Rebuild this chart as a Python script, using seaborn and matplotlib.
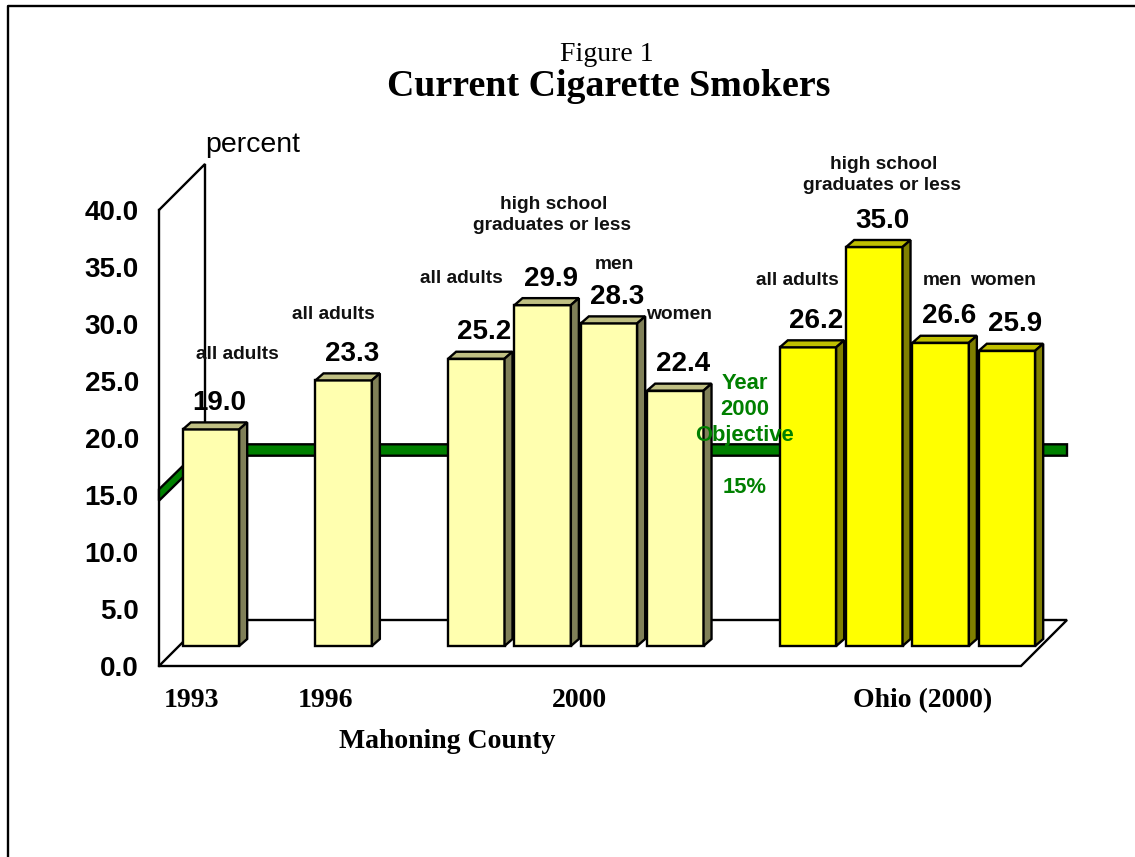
import pandas as pd
import seaborn as sns
import matplotlib.pyplot as plt
from matplotlib.colors import to_rgb
from matplotlib.patches import Polygon

# data
groups = ['1993', '1996', '2000 all adults', '2000 high school', '2000 men', '2000 women',
          'Ohio all adults', 'Ohio high school', 'Ohio men', 'Ohio women']
areas = ['Mahoning', 'Mahoning', 'Mahoning', 'Mahoning', 'Mahoning', 'Mahoning',
         'Ohio', 'Ohio', 'Ohio', 'Ohio']
percent = [19.0, 23.3, 25.2, 29.9, 28.3, 22.4, 26.2, 35.0, 26.6, 25.9]
y_ticks = [0, 5, 10, 15, 20, 25, 30, 35, 40]
objective = 15
slot_order = ['1993', ' ', '1996', '  ', '2000 all adults', '2000 high school', '2000 men',
              '2000 women', '   ', 'Ohio all adults', 'Ohio high school', 'Ohio men', 'Ohio women']

W, H = 1135, 857
LW = 1.7
sans = 'Liberation Sans'
serif = 'Liberation Serif'

sns.set_theme(style='white')
plt.rcParams['font.family'] = [sans, 'DejaVu Sans']


def box(left, top, right, bottom):
    return [left / W, 1 - bottom / H, (right - left) / W, (bottom - top) / H]


fig = plt.figure(figsize=(W / 100, H / 100), dpi=100, facecolor='white')


def px_text(x, y, s, **kw):
    kw.setdefault('ha', 'center')
    kw.setdefault('va', 'center')
    kw.setdefault('zorder', 20)
    return fig.text(x / W, 1 - (y + 2.5) / H, s, **kw)


# page border, only top and left
fig.add_artist(plt.Line2D([8 / W, 8 / W, 1], [0, 1 - 5.5 / H, 1 - 5.5 / H], color='black', lw=LW))

# wall and floor: front edge is 159..1021 px, 0 at 666 px, 40 at 210 px
ax_wall = fig.add_axes(box(159, 210, 1021, 666), facecolor='none')
ax_wall.set_xlim(0, 1)
ax_wall.set_ylim(0, 40)
ax_wall.set_xticks([])
ax_wall.set_yticks(y_ticks, [f'{v:.1f}' for v in y_ticks], fontsize=20, fontweight='bold', color='black')
ax_wall.tick_params(axis='y', length=0, pad=14.5)
for name in ['top', 'right', 'bottom']:
    ax_wall.spines[name].set_visible(False)
ax_wall.spines['left'].set_linewidth(LW)
ax_wall.spines['left'].set_color('black')

depth_x = 46 / 862
depth_y = 46 / 11.4
edges = [([0, depth_x, depth_x], [40, 40 + depth_y, depth_y]),
         ([0, depth_x, 1 + depth_x, 1, 0], [0, depth_y, depth_y, 0, 0])]
for xs, ys in edges:
    ax_wall.plot(xs, ys, color='black', lw=LW, clip_on=False, solid_joinstyle='miter', zorder=2)

# year 2000 objective band
half = 5.7 / 11.4
rise = 45 / 11.4
ax_wall.add_patch(Polygon([(0, objective - half), (depth_x, objective + rise - half),
                           (1 + depth_x, objective + rise - half), (1 + depth_x, objective + rise + half),
                           (depth_x, objective + rise + half), (0, objective + half)],
                          closed=True, facecolor='#008000', edgecolor='black', lw=LW, clip_on=False, zorder=3))

# bars: slots are 66.33 px wide, first centre at 211 px, zero at 646 px
slot = 66.33
ax = fig.add_axes(box(211 - slot / 2, 190, 1007 + slot / 2, 646), facecolor='none')
df = pd.DataFrame({'group': groups, 'area': areas, 'percent': percent})
sns.barplot(data=df, x='group', y='percent', hue='area', order=slot_order, dodge=False,
            palette={'Mahoning': '#FFFFAF', 'Ohio': '#FFFF00'}, width=0.85, saturation=1,
            edgecolor='black', linewidth=LW, legend=False, ax=ax)
ax.set_xlim(-0.5, len(slot_order) - 0.5)
ax.set_ylim(0, 40)
ax.axis('off')

side_x = 8 / slot
side_y = 7 / 11.4
for bar in list(ax.patches):
    h = bar.get_height()
    if not h or h != h:
        continue
    bar.set_clip_on(False)
    x0, x1 = bar.get_x(), bar.get_x() + bar.get_width()
    r, g, b = to_rgb(bar.get_facecolor())
    ax.add_patch(Polygon([(x0, h), (x1, h), (x1 + side_x, h + side_y), (x0 + side_x, h + side_y)],
                         closed=True, facecolor=(r * .75, g * .75, b * .75), edgecolor='black',
                         lw=LW, clip_on=False, zorder=bar.get_zorder()))
    ax.add_patch(Polygon([(x1, 0), (x1 + side_x, side_y), (x1 + side_x, h + side_y), (x1, h)],
                         closed=True, facecolor=(r * .5, g * .5, b * .5), edgecolor='black',
                         lw=LW, clip_on=False, zorder=bar.get_zorder()))
    ax.annotate(f'{h:.1f}', (bar.get_x() + bar.get_width() / 2, h), xytext=(8 * .72, 13.5 * .72),
                textcoords='offset points', ha='center', va='bottom', fontsize=20,
                fontweight='bold', color='black', zorder=20, annotation_clip=False)

# titles
px_text(607, 52, 'Figure 1', family=serif, fontsize=20, color='black')
px_text(608.5, 84, 'Current Cigarette Smokers', family=serif, fontsize=27.3, fontweight='bold', color='black')
px_text(253, 143, 'percent', fontsize=20.5, color='black')

# small bar captions
captions = [('all adults', 237, 352), ('all adults', 333, 312), ('all adults', 461, 276),
            ('high school', 553.5, 202), ('graduates or less', 552, 223), ('men', 614, 262),
            ('women', 679, 312), ('all adults', 797, 278), ('high school', 883.5, 162),
            ('graduates or less', 882, 183), ('men', 942, 278), ('women', 1003, 278)]
for s, x, y in captions:
    px_text(x, y, s, fontsize=13.8, fontweight='bold', color='#111111')

for s, y in [('Year', 381), ('2000', 407), ('Objective', 433), ('15%', 485)]:
    px_text(745, y, s, fontsize=15.8, fontweight='bold', color='#008000')

for s, x, y in [('1993', 191.5, 698), ('1996', 325, 698), ('2000', 579, 698),
                ('Ohio (2000)', 922.5, 698), ('Mahoning County', 447, 739)]:
    px_text(x, y, s, family=serif, fontsize=20, fontweight='bold', color='black')

fig.savefig('out.png', dpi=100)
